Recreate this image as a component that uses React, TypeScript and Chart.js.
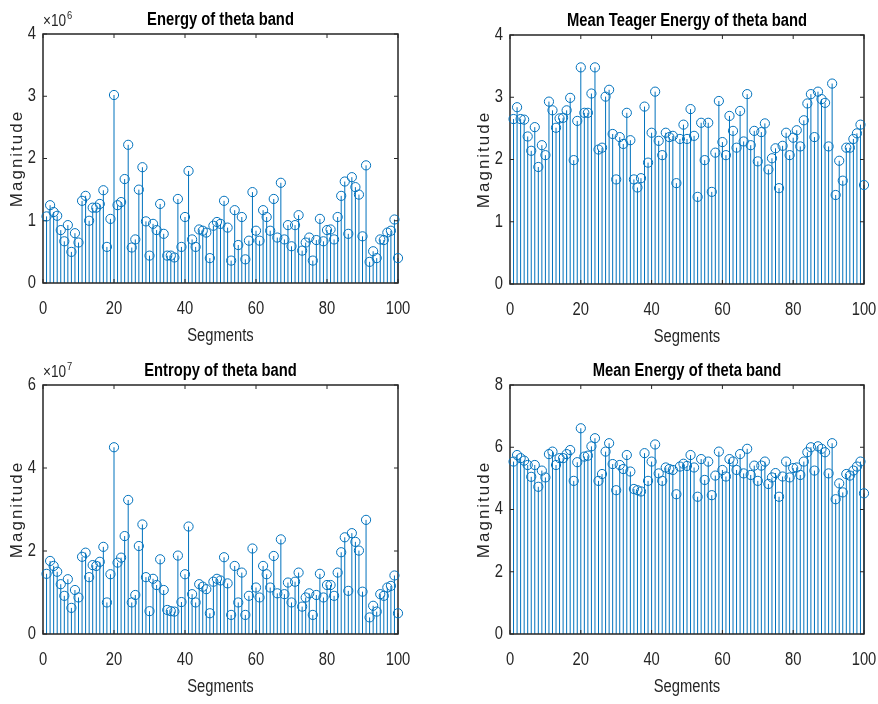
import React, { useEffect, useRef } from "react";
import { Chart, registerables } from "chart.js";

Chart.register(...registerables);

// ---------------- data ----------------
const segments: number[] = Array.from({ length: 100 }, (_, i) => i + 1);

// Energy of theta band (x 1e6)
const energyTheta: number[] = [
  1.07, 1.25, 1.14, 1.08, 0.85, 0.67, 0.93, 0.5, 0.8, 0.65,
  1.32, 1.4, 1.0, 1.21, 1.21, 1.27, 1.49, 0.58, 1.03, 3.02,
  1.25, 1.3, 1.67, 2.22, 0.57, 0.7, 1.5, 1.86, 0.99, 0.44,
  0.95, 0.85, 1.27, 0.79, 0.44, 0.44, 0.41, 1.35, 0.58, 1.06,
  1.8, 0.7, 0.58, 0.86, 0.84, 0.81, 0.4, 0.92, 0.98, 0.95,
  1.32, 0.89, 0.36, 1.17, 0.61, 1.06, 0.38, 0.68, 1.46, 0.84,
  0.68, 1.17, 1.06, 0.84, 1.35, 0.73, 1.61, 0.7, 0.93, 0.59,
  0.93, 1.09, 0.52, 0.65, 0.73, 0.36, 0.69, 1.03, 0.67, 0.85,
  0.86, 0.7, 1.06, 1.4, 1.63, 0.79, 1.7, 1.54, 1.42, 0.75,
  1.89, 0.34, 0.51, 0.4, 0.7, 0.69, 0.81, 0.84, 1.02, 0.4,
];

// Mean Teager Energy of theta band
const teagerTheta: number[] = [
  2.65, 2.84, 2.65, 2.64, 2.37, 2.14, 2.52, 1.88, 2.23, 2.07,
  2.93, 2.79, 2.51, 2.66, 2.67, 2.79, 2.99, 1.99, 2.62, 3.48,
  2.75, 2.75, 3.06, 3.48, 2.16, 2.19, 3.01, 3.12, 2.41, 1.68,
  2.36, 2.25, 2.75, 2.31, 1.68, 1.55, 1.7, 2.85, 1.95, 2.43,
  3.09, 2.3, 2.07, 2.43, 2.36, 2.38, 1.62, 2.33, 2.56, 2.33,
  2.81, 2.38, 1.4, 2.59, 1.99, 2.59, 1.48, 2.11, 2.94, 2.28,
  2.07, 2.7, 2.46, 2.19, 2.78, 2.29, 3.05, 2.23, 2.46, 1.97,
  2.44, 2.58, 1.84, 2.02, 2.18, 1.54, 2.22, 2.43, 2.07, 2.35,
  2.47, 2.21, 2.63, 2.9, 3.05, 2.36, 3.09, 2.97, 2.91, 2.21,
  3.22, 1.43, 1.98, 1.66, 2.19, 2.19, 2.33, 2.42, 2.56, 1.59,
];

// Entropy of theta band (x 1e7)
const entropyTheta: number[] = [
  1.45, 1.76, 1.64, 1.5, 1.2, 0.92, 1.32, 0.63, 1.06, 0.88,
  1.86, 1.96, 1.37, 1.66, 1.64, 1.74, 2.1, 0.76, 1.44, 4.5,
  1.72, 1.84, 2.36, 3.23, 0.76, 0.94, 2.12, 2.64, 1.37, 0.55,
  1.33, 1.18, 1.8, 1.06, 0.58, 0.55, 0.54, 1.89, 0.77, 1.44,
  2.59, 0.96, 0.76, 1.2, 1.14, 1.08, 0.5, 1.26, 1.33, 1.29,
  1.85, 1.22, 0.46, 1.64, 0.76, 1.48, 0.46, 0.92, 2.06, 1.12,
  0.88, 1.64, 1.44, 1.12, 1.88, 0.98, 2.28, 0.96, 1.24, 0.76,
  1.26, 1.48, 0.66, 0.88, 0.98, 0.46, 0.94, 1.45, 0.88, 1.18,
  1.18, 0.92, 1.48, 1.97, 2.33, 1.04, 2.43, 2.22, 2.01, 1.02,
  2.75, 0.4, 0.68, 0.54, 0.96, 0.92, 1.12, 1.16, 1.41, 0.5,
];

// Mean Energy of theta band
const meanEnergyTheta: number[] = [
  5.54, 5.75, 5.65, 5.57, 5.43, 5.05, 5.43, 4.73, 5.25, 5.03,
  5.78, 5.86, 5.43, 5.65, 5.65, 5.78, 5.91, 4.92, 5.52, 6.61,
  5.7, 5.73, 6.03, 6.29, 4.92, 5.14, 5.86, 6.13, 5.46, 4.62,
  5.43, 5.3, 5.75, 5.22, 4.66, 4.62, 4.58, 5.81, 4.92, 5.54,
  6.09, 5.16, 4.92, 5.35, 5.3, 5.27, 4.49, 5.38, 5.47, 5.4,
  5.75, 5.35, 4.41, 5.62, 4.95, 5.54, 4.46, 5.09, 5.86, 5.27,
  5.06, 5.62, 5.54, 5.27, 5.78, 5.16, 5.95, 5.11, 5.41, 4.92,
  5.41, 5.54, 4.82, 5.03, 5.17, 4.41, 5.06, 5.54, 5.03, 5.33,
  5.35, 5.11, 5.54, 5.84, 6.0, 5.25, 6.03, 5.95, 5.84, 5.16,
  6.13, 4.33, 4.84, 4.55, 5.14, 5.09, 5.25, 5.38, 5.54, 4.52,
];

const titles = [
  "Energy of theta band",
  "Mean Teager Energy of theta band",
  "Entropy of theta band",
  "Mean Energy of theta band",
];
const xLabel = "Segments";
const yLabel = "Magnitude";
const xTicks = { min: 0, max: 100, step: 20 };
const yRanges = [
  { max: 4, step: 1 },
  { max: 4, step: 1 },
  { max: 6, step: 2 },
  { max: 8, step: 2 },
];
const exponents: (number | null)[] = [6, null, 7, null];

// ---------------- styles ----------------
const BLUE = "#0072BD";
const AXIS = "#262626";
const FAMILY = "'Liberation Sans', Arial, Helvetica, sans-serif";
const CONDENSE = 0.82;

type Layout = {
  left: number;
  top: number;
  w: number;
  h: number;
  padLeft: number;
  yWidth: number;
  padTop: number;
  padRight: number;
  xHeight: number;
};

const layouts: Layout[] = [
  { left: 0, top: 0, w: 439, h: 352, padLeft: 0, yWidth: 43, padTop: 34, padRight: 41, xHeight: 69 },
  { left: 439, top: 0, w: 439, h: 352, padLeft: 29, yWidth: 42, padTop: 35, padRight: 14, xHeight: 68 },
  { left: 0, top: 352, w: 439, h: 352, padLeft: 0, yWidth: 43, padTop: 33, padRight: 41, xHeight: 70 },
  { left: 439, top: 352, w: 439, h: 352, padLeft: 29, yWidth: 42, padTop: 33, padRight: 14, xHeight: 70 },
];

function condensedText(
  ctx: CanvasRenderingContext2D,
  text: string,
  x: number,
  y: number,
  font: string,
  align: CanvasTextAlign,
  baseline: CanvasTextBaseline,
  sx: number = CONDENSE
) {
  ctx.save();
  ctx.translate(x, y);
  ctx.scale(sx, 1);
  ctx.font = font;
  ctx.textAlign = align;
  ctx.textBaseline = baseline;
  ctx.fillText(text, 0, 0);
  ctx.restore();
}

function makePlugin(title: string, exp: number | null, values: number[]) {
  return {
    id: "matlabStem",
    beforeDatasetsDraw(chart: any) {
      const { ctx, chartArea } = chart;
      const x = chart.scales.x;
      const y = chart.scales.y;
      const { left, right, top, bottom } = chartArea;
      ctx.save();
      // stems
      ctx.strokeStyle = BLUE;
      ctx.lineWidth = 1;
      ctx.beginPath();
      const y0 = y.getPixelForValue(0);
      for (let i = 0; i < values.length; i++) {
        const px = x.getPixelForValue(segments[i]);
        ctx.moveTo(px, y0);
        ctx.lineTo(px, y.getPixelForValue(values[i]));
      }
      ctx.stroke();
      // box
      ctx.strokeStyle = AXIS;
      ctx.lineWidth = 1.5;
      ctx.strokeRect(left, top, right - left, bottom - top);
      // inward ticks
      ctx.lineWidth = 1;
      ctx.beginPath();
      const tl = 4;
      for (const t of x.ticks) {
        const px = x.getPixelForValue(t.value);
        ctx.moveTo(px, bottom);
        ctx.lineTo(px, bottom - tl);
        ctx.moveTo(px, top);
        ctx.lineTo(px, top + tl);
      }
      for (const t of y.ticks) {
        const py = y.getPixelForValue(t.value);
        ctx.moveTo(left, py);
        ctx.lineTo(left + tl, py);
        ctx.moveTo(right, py);
        ctx.lineTo(right - tl, py);
      }
      ctx.stroke();
      ctx.restore();
    },
    afterDraw(chart: any) {
      const { ctx, chartArea } = chart;
      const x = chart.scales.x;
      const y = chart.scales.y;
      const { left, right, top, bottom } = chartArea;
      const cx = (left + right) / 2;
      ctx.save();
      // tick labels
      ctx.fillStyle = AXIS;
      for (const t of x.ticks) {
        condensedText(ctx, String(t.value), x.getPixelForValue(t.value), bottom + 31, `18px ${FAMILY}`, "center", "alphabetic");
      }
      for (const t of y.ticks) {
        condensedText(ctx, String(t.value), left - 7, y.getPixelForValue(t.value), `18px ${FAMILY}`, "right", "middle");
      }
      // title
      ctx.fillStyle = "#000000";
      condensedText(ctx, title, cx, top - 9, `bold 18px ${FAMILY}`, "center", "alphabetic");
      // x label
      ctx.fillStyle = AXIS;
      condensedText(ctx, xLabel, cx, bottom + 58, `18px ${FAMILY}`, "center", "alphabetic");
      // y label
      ctx.save();
      ctx.translate(left - 26, (top + bottom) / 2);
      ctx.rotate(-Math.PI / 2);
      ctx.font = `17px ${FAMILY}`;
      try {
        (ctx as any).letterSpacing = "2px";
      } catch (e) {}
      ctx.textAlign = "center";
      ctx.textBaseline = "middle";
      ctx.fillText(yLabel, 0, 0);
      ctx.restore();
      // exponent
      if (exp !== null) {
        const base = "\u00d710";
        ctx.font = `16px ${FAMILY}`;
        const w = ctx.measureText(base).width * 0.85;
        condensedText(ctx, base, left, top - 8, `16px ${FAMILY}`, "left", "alphabetic", 0.85);
        condensedText(ctx, String(exp), left + w + 1, top - 15, `11px ${FAMILY}`, "left", "alphabetic", 0.85);
      }
      ctx.restore();
    },
  };
}

function Panel({ idx }: { idx: number }) {
  const ref = useRef<HTMLCanvasElement | null>(null);
  const values = [energyTheta, teagerTheta, entropyTheta, meanEnergyTheta][idx];
  const L = layouts[idx];
  useEffect(() => {
    if (!ref.current) return;
    const yr = yRanges[idx];
    const chart = new Chart(ref.current, {
      type: "scatter",
      data: {
        datasets: [
          {
            data: segments.map((s, i) => ({ x: s, y: values[i] })),
            pointStyle: "circle",
            pointRadius: 4.6,
            pointHoverRadius: 4.6,
            borderColor: BLUE,
            backgroundColor: "rgba(0,0,0,0)",
            borderWidth: 1,
            clip: false as any,
          },
        ],
      },
      options: {
        animation: false,
        responsive: false,
        events: [],
        layout: { padding: { left: L.padLeft, top: L.padTop, right: L.padRight, bottom: 0 } },
        plugins: {
          legend: { display: false },
          tooltip: { enabled: false },
          title: { display: false },
        },
        scales: {
          x: {
            type: "linear",
            min: xTicks.min,
            max: xTicks.max,
            offset: false,
            ticks: { stepSize: xTicks.step, display: false, autoSkip: false },
            grid: { display: false, drawTicks: false },
            border: { display: false },
            afterFit: (s: any) => {
              s.height = L.xHeight;
            },
          },
          y: {
            type: "linear",
            min: 0,
            max: yr.max,
            ticks: { stepSize: yr.step, display: false, autoSkip: false },
            grid: { display: false, drawTicks: false },
            border: { display: false },
            afterFit: (s: any) => {
              s.width = L.yWidth;
            },
          },
        },
      } as any,
      plugins: [makePlugin(titles[idx], exponents[idx], values)],
    });
    return () => chart.destroy();
  }, [idx]);
  return (
    <div style={{ position: "absolute", left: L.left, top: L.top, width: L.w, height: L.h }}>
      <canvas ref={ref} width={L.w} height={L.h} style={{ display: "block" }} />
    </div>
  );
}

export default function App() {
  return (
    <div
      style={{
        position: "absolute",
        left: 0,
        top: 0,
        width: 878,
        height: 704,
        background: "#ffffff",
      }}
    >
      {[0, 1, 2, 3].map((i) => (
        <Panel key={i} idx={i} />
      ))}
    </div>
  );
}
